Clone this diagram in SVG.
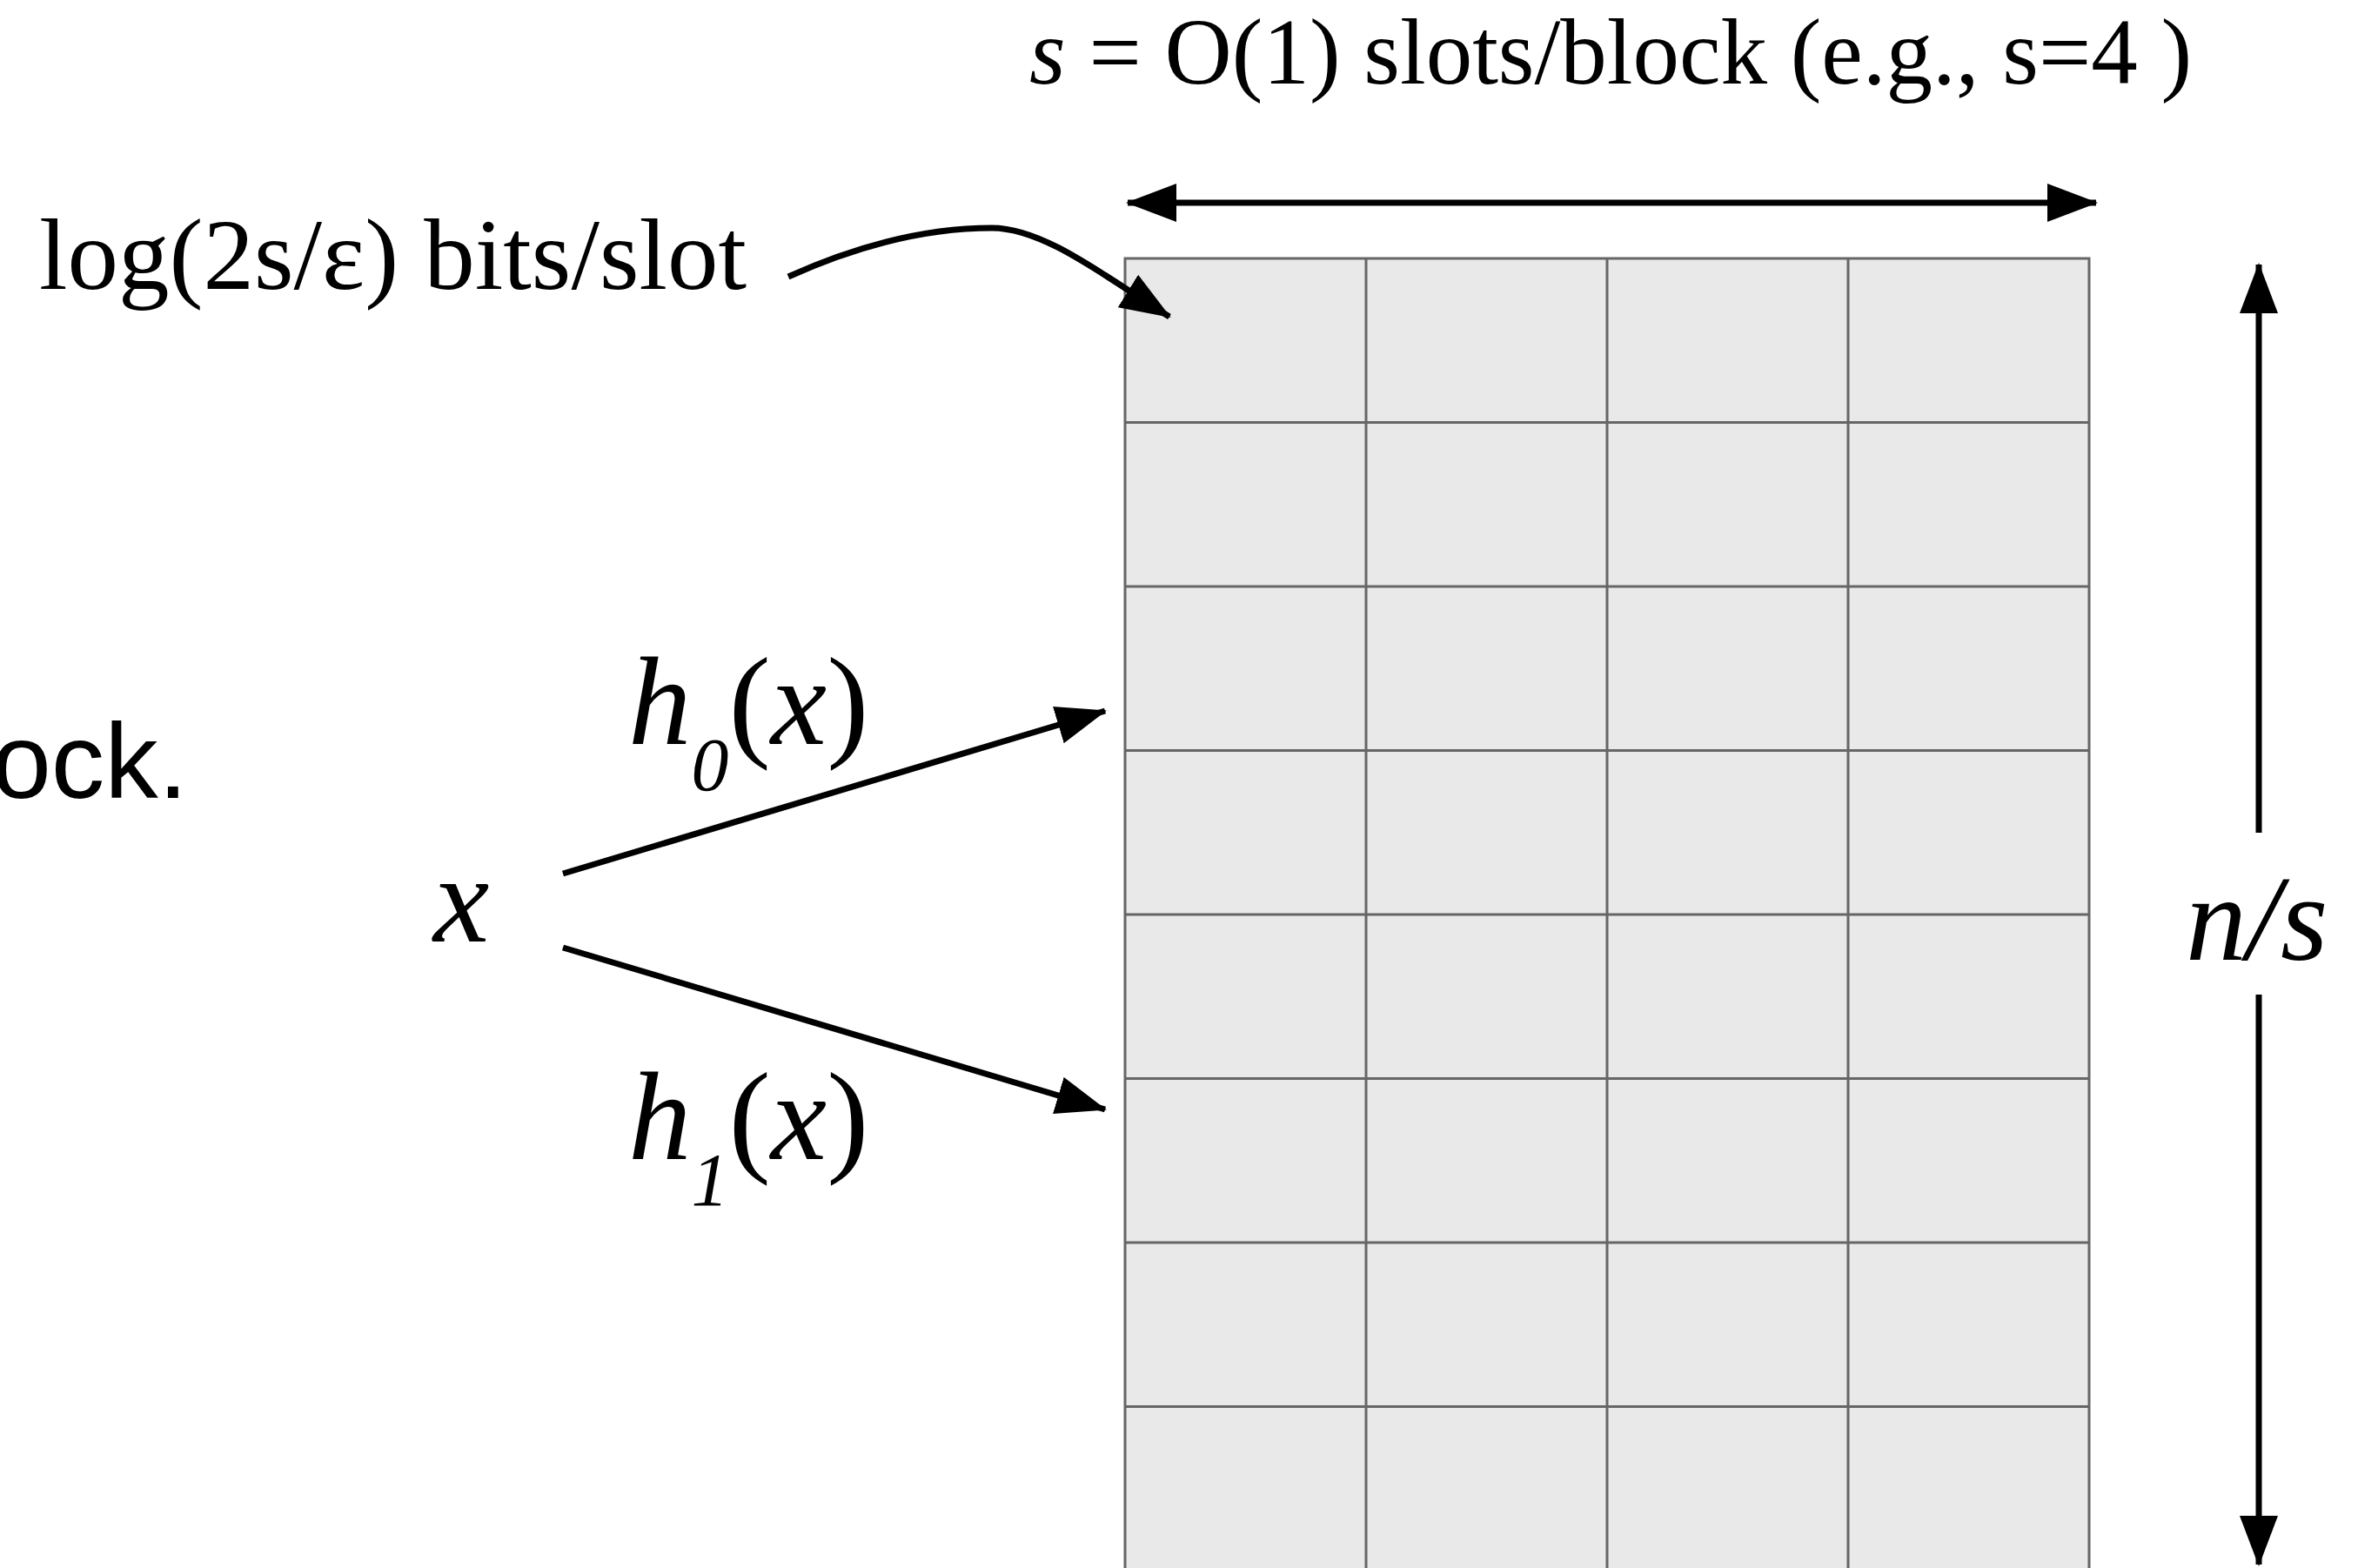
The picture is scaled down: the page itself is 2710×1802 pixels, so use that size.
<svg xmlns="http://www.w3.org/2000/svg" width="2710" height="1802" viewBox="0 0 2710 1802">
  <style>
    .serif { font-family: "Liberation Serif", "Times New Roman", serif; fill: #000; }
    .sans { font-family: "Liberation Sans", Arial, sans-serif; fill: #000; }
    .it { font-style: italic; }
    .cell { fill: #e9e9e9; stroke: #666; stroke-width: 3; }
    .conn { fill: none; stroke: #000; stroke-width: 7; }
  </style>
  <defs>
    <marker id="arrow" markerUnits="userSpaceOnUse" markerWidth="58" markerHeight="44" viewBox="0 0 58 44" refX="56" refY="22" orient="auto-start-reverse">
      <path d="M0,0 L58,22 L0,44 Z" fill="#000"/>
    </marker>
  </defs>
  <rect width="2710" height="1802" fill="#fff"/>

  <g id="grid">
    <rect x="1293" y="297" width="1108" height="1520" class="cell"/>
    <g stroke="#666" stroke-width="3">
      <line x1="1570" y1="297" x2="1570" y2="1817"/>
      <line x1="1847" y1="297" x2="1847" y2="1817"/>
      <line x1="2124" y1="297" x2="2124" y2="1817"/>
      <line x1="1293" y1="485.5" x2="2401" y2="485.5"/>
      <line x1="1293" y1="674" x2="2401" y2="674"/>
      <line x1="1293" y1="862.5" x2="2401" y2="862.5"/>
      <line x1="1293" y1="1051" x2="2401" y2="1051"/>
      <line x1="1293" y1="1239.5" x2="2401" y2="1239.5"/>
      <line x1="1293" y1="1428" x2="2401" y2="1428"/>
      <line x1="1293" y1="1616.5" x2="2401" y2="1616.5"/>
    </g>
  </g>

  <g id="label-slots">
    <text class="serif" x="1183" y="96" font-size="107"><tspan class="it">s</tspan> = O(1) slots/block (e.g., s=4 )</text>
  </g>
  <g id="label-bits">
    <text class="serif" x="45" y="332" font-size="117">log(2s/ε) bits/slot</text>
  </g>
  <g id="label-block">
    <text class="sans" x="216" y="917" font-size="123" text-anchor="end">ock.</text>
  </g>
  <g id="label-x">
    <text class="serif it" x="498" y="1082" font-size="145">x</text>
  </g>
  <g id="label-h0">
    <text class="serif" x="722" y="855" font-size="145"><tspan class="it">h</tspan><tspan class="it" font-size="86" dy="53">0</tspan><tspan dy="-53">(</tspan><tspan class="it">x</tspan>)</text>
  </g>
  <g id="label-h1">
    <text class="serif" x="722" y="1332" font-size="145"><tspan class="it">h</tspan><tspan class="it" font-size="86" dy="53">1</tspan><tspan dy="-53">(</tspan><tspan class="it">x</tspan>)</text>
  </g>
  <g id="label-ns">
    <text class="serif it" x="2512" y="1103" font-size="140">n/s</text>
  </g>

  <g id="connectors">
    <line class="conn" x1="1296" y1="233" x2="2409" y2="233" marker-start="url(#arrow)" marker-end="url(#arrow)"/>
    <line class="conn" x1="2596" y1="957" x2="2596" y2="304" marker-end="url(#arrow)"/>
    <line class="conn" x1="2596" y1="1143" x2="2596" y2="1798" marker-end="url(#arrow)"/>
    <path class="conn" stroke-width="6" d="M906,318 C990,280 1070,262 1140,262 C1200,262 1270,318 1344,364" marker-end="url(#arrow)"/>
    <line class="conn" stroke-width="6" x1="647" y1="1004" x2="1270" y2="817" marker-end="url(#arrow)"/>
    <line class="conn" stroke-width="6" x1="647" y1="1089" x2="1270" y2="1275" marker-end="url(#arrow)"/>
  </g>
</svg>
